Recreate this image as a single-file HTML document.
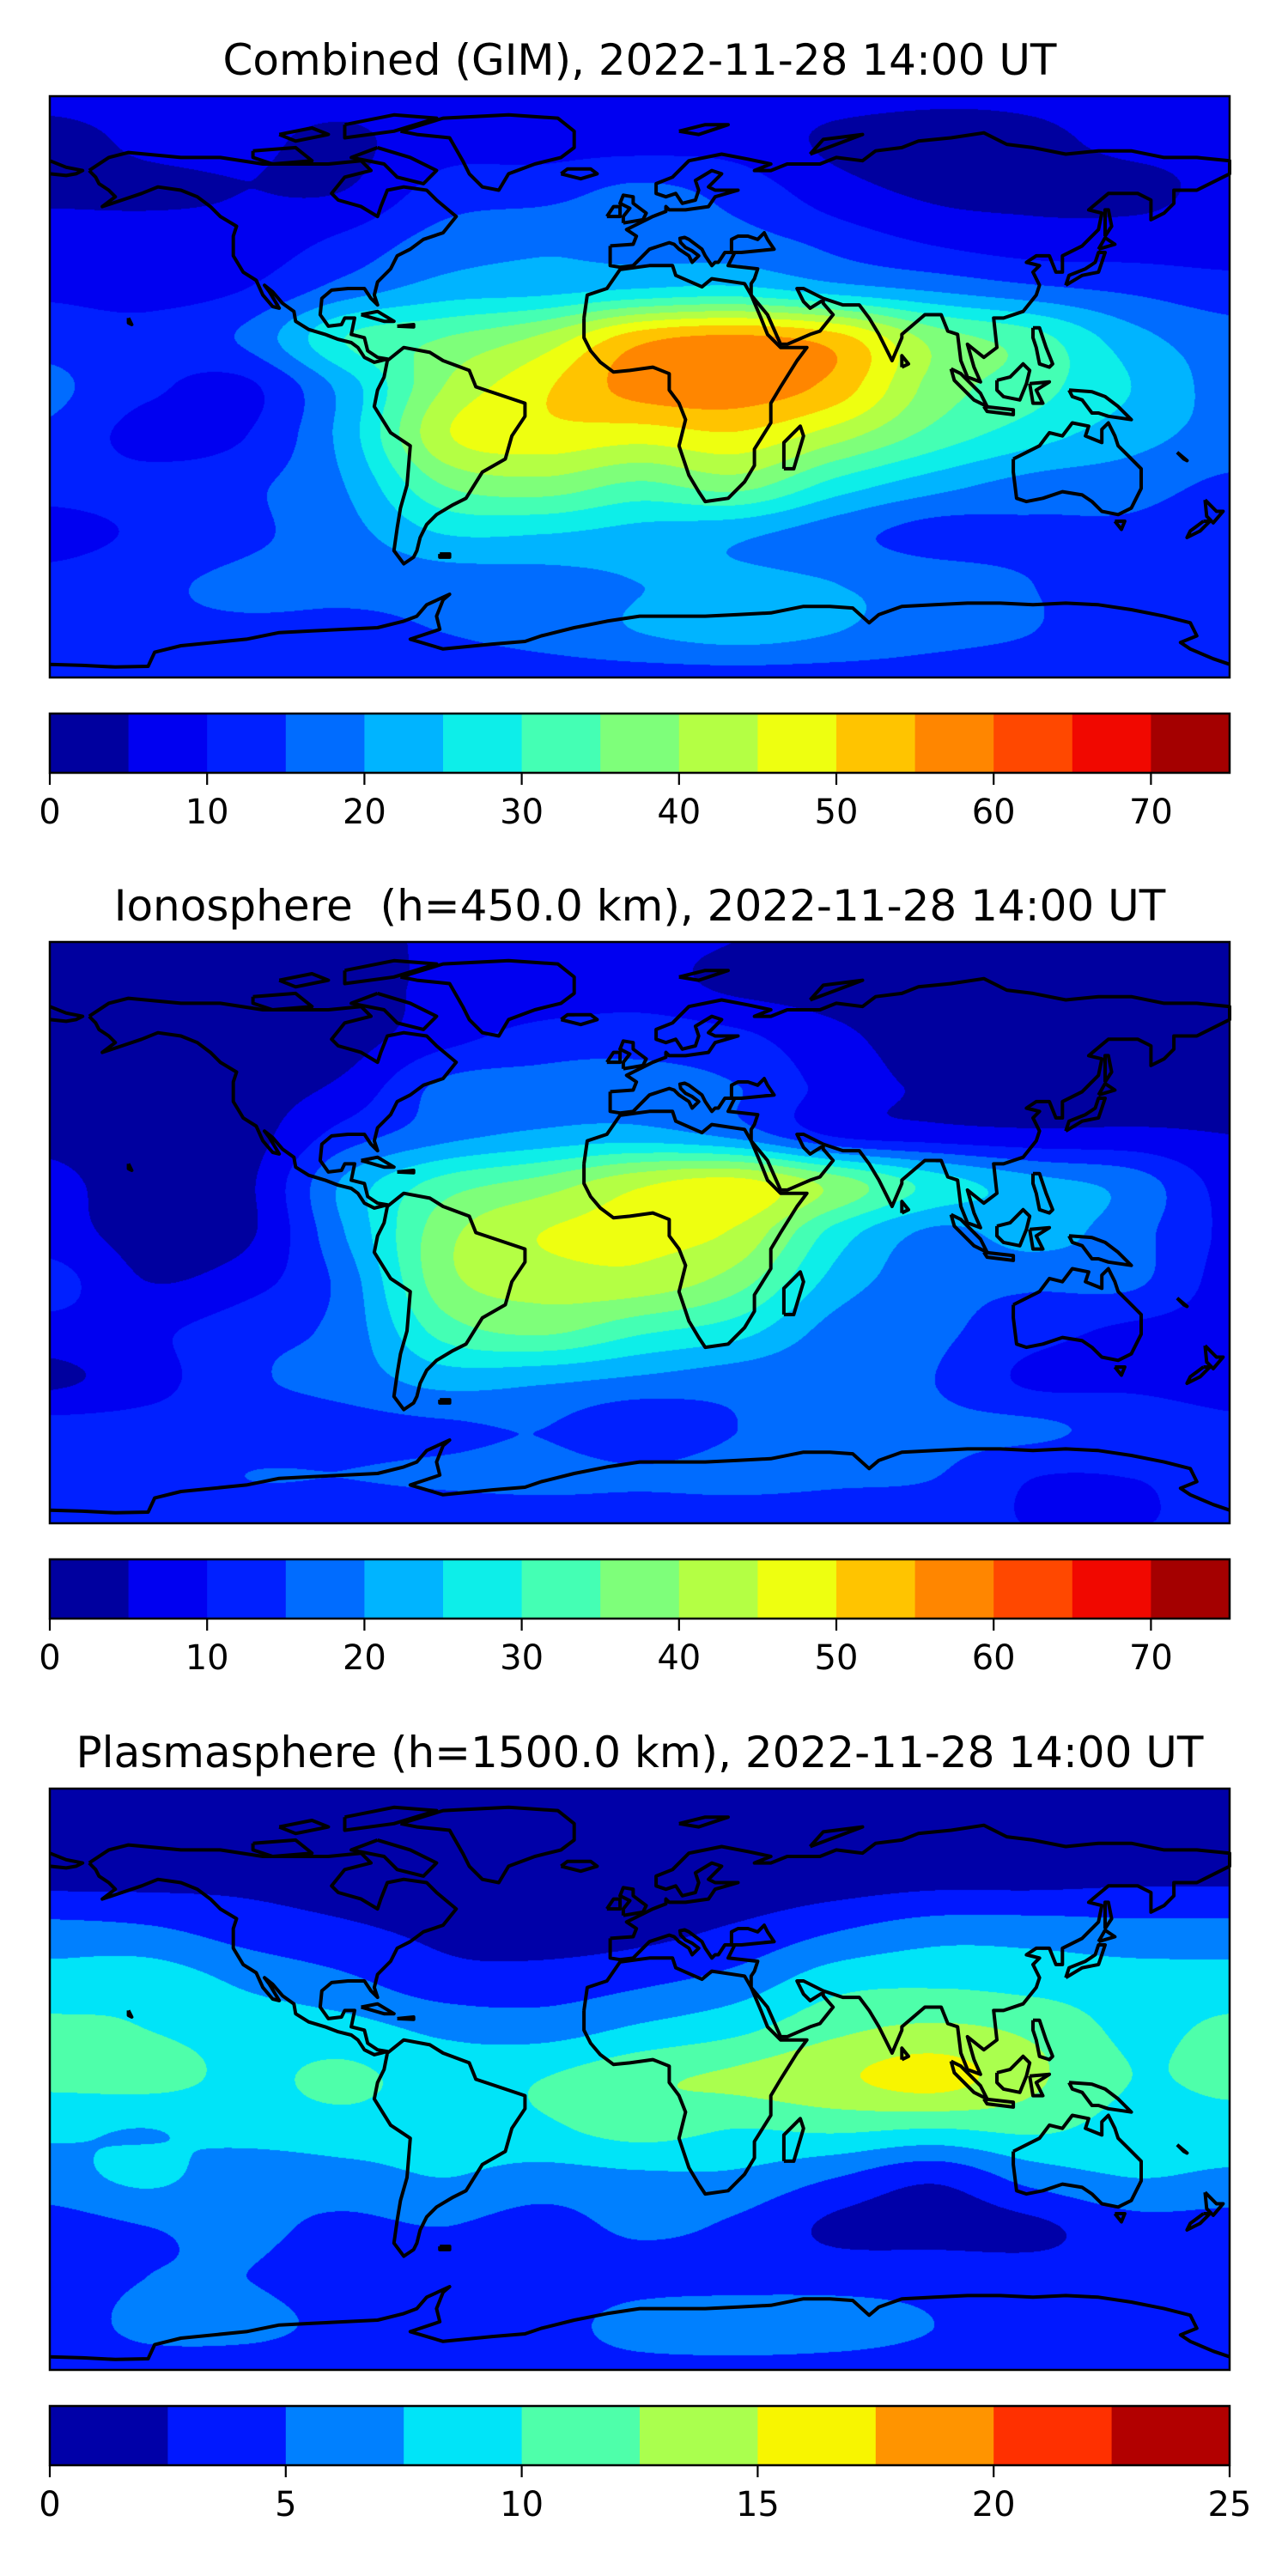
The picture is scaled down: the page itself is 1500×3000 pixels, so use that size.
<!DOCTYPE html>
<html><head><meta charset="utf-8">
<style>
html,body{margin:0;padding:0;background:#fff;}
#root{position:relative;width:1500px;height:3000px;overflow:hidden;font-family:"DejaVu Sans","Liberation Sans",sans-serif;}
canvas{position:absolute;}
svg{position:absolute;left:0;top:0;}
</style></head>
<body>
<div id="root">
<canvas id="c0" width="1374" height="677" style="left:58px;top:112px"></canvas>
<canvas id="c1" width="1374" height="677" style="left:58px;top:1097px"></canvas>
<canvas id="c2" width="1374" height="677" style="left:58px;top:2083px"></canvas>
<svg id="ov" width="1500" height="3000" xmlns="http://www.w3.org/2000/svg"></svg>
</div>
<script>
// ---- data: grid lats 90..-90 step 15 (rows), lons -180..180 step 30 (cols)
const gridLats=[90,75,60,45,30,15,0,-15,-30,-45,-60,-75,-90];
const gridLons=[-180,-150,-120,-90,-60,-30,0,30,60,90,120,150,180];
const combinedTEC=[
[7,7,7,7,8,8,8,8,7,6,6,7,7],
[3,6,6,4,8,8,8,8,4,3,4,6,6],
[4,4,5,5,12,13,16,13,7,4,4,4,6],
[7,7,7,11,17,19,18,17,13,9,7,7,7],
[9,8,10,17,22,23,25,26,22,19,16,14,12],
[13,12,16,30,35,41,53,56,52,38,32,22,17],
[16,11,9,22,40,49,57,58,53,38,32,25,18],
[14,8,10,22,44,48,47,49,42,33,27,22,18],
[12,12,14,20,35,38,34,37,28,22,18,17,14],
[8,11,14,18,25,25,23,21,17,13,14,14,12],
[12,14,16,16,17,18,20,21,20,18,15,14,13],
[14,14,14,14,15,17,20,22,20,17,15,13,13],
[12,12,12,12,12,12,12,12,12,12,12,12,12]];
const ionoTEC=[
[3,3,3,3,6,6,6,5,3,3,3,3,3],
[3,3,3,3,6,6,7,4,3,3,3,3,3],
[3,3,3,3,8,12,13,11,6,3,3,3,3],
[3,3,3,6,16,17,17,15,8,4,3,3,3],
[4,3,3,12,18,21,22,18,9,7,6,6,5],
[6,3,4,21,32,37,44,47,38,28,22,18,8],
[7,3,4,20,38,45,46,44,28,19,22,17,9],
[12,5,8,17,38,42,43,37,23,17,16,16,8],
[8,9,13,17,32,36,31,27,18,16,12,9,8],
[4,8,14,17,22,21,19,17,16,15,9,9,8],
[12,12,12,13,14,15,11,15,16,16,16,13,11],
[12,12,15,15,16,17,16,17,16,15,10,10,11],
[10,10,10,10,10,10,10,10,10,10,10,10,10]];
const plasmaTEC=[
[1.5,1.5,1.5,1.5,1.5,1.5,1.5,1.5,1.5,1.5,1.5,1.5,1.5],
[1.5,1.5,1.5,1.5,1.5,1.5,1.5,1.5,1.5,1.5,1.5,1.5,1.5],
[2,2,2,1.5,1,1,1,1,1.5,2,2,2.3,2.3],
[6,5.5,4,3,2,1.5,1.8,3,5,6.5,6.5,6,6],
[8.5,9,7,5.5,3.5,3.5,4.5,6,9,9.5,9,8.5,8.5],
[10.5,10,9,8.5,7,6.5,8,9.5,12,13,12,9.5,10.5],
[10.5,10.8,9.5,10.5,9,10,12,13,14.5,16,13,10,10.5],
[8,7.5,8.5,9,8.5,9.5,11,10,10.5,10,10.5,9,9],
[6.5,8,6,6.5,7.5,6.5,7,7,5,3,6,7.5,7],
[4,5,5.5,4.5,5,4,5.5,4.5,2,1.5,2,4,4],
[4,5,5,4,4,3.5,4,4,4,4,3.5,3.5,4],
[4,5.5,5.5,4.5,4,4,6,6.5,6,5,4,4,4],
[4,4,4,4,4,4,4,4,4,4,4,4,4]];
const jet15=['#00009f','#0000f1','#0020ff','#006cff','#00b4ff','#0deee9','#44ffb4','#7eff7a','#b4ff44','#eeff10','#ffc400','#ff8600','#ff4800','#f10800','#a40000'];
const jet10=['#0000a8','#0018ff','#0080ff','#00e4f8','#4effaa','#aaff4e','#f8f500','#ff9400','#ff3000','#b20000'];
const ticks75=[0,10,20,30,40,50,60,70];
const ticks25=[0,5,10,15,20,25];
const titles=['Combined (GIM), 2022-11-28 14:00 UT','Ionosphere  (h=450.0 km), 2022-11-28 14:00 UT','Plasmasphere (h=1500.0 km), 2022-11-28 14:00 UT'];

// ---- coastlines (lon, lat)
const coasts=[
[[-168,66],[-162,70],[-156,71.5],[-140,70],[-128,70],[-115,68],[-95,68],[-85,69],[-82,66],[-90,64],[-94,59],[-92,57],[-85,55],[-80,52],[-79,55],[-77,60],[-72,61],[-65,60],[-62,57],[-56,52],[-60,47],[-66,45],[-70,42],[-74,40],[-76,36],[-80,32],[-81,28],[-80,25],[-82,27],[-84,30],[-89,30],[-94,29.5],[-97,27],[-97.5,22],[-95,18.5],[-91,19],[-90,21],[-87,21],[-88,16],[-84,15],[-83,11],[-80,9],[-77,8.5],[-79,8],[-81,7.5],[-84,9],[-86,12],[-88,13.5],[-92,14.5],[-96,16],[-101,17.5],[-105,20],[-105.5,23],[-109,25.5],[-112,29],[-114.5,31],[-113,29],[-110,24],[-112,24.5],[-115,28],[-117,32.5],[-121,35],[-124,40],[-124,46],[-123,49],[-128,52],[-131,55],[-135,58],[-140,60],[-147,61],[-152,59],[-158,57],[-164,55],[-160,58],[-162,60],[-165,62],[-166,64],[-168,66]],
[[-73,78],[-60,82],[-40,83],[-25,82],[-20,78],[-20,73],[-24,70],[-32,68],[-40,65],[-43,60],[-48,61],[-52,65],[-54,69],[-58,76],[-68,77],[-73,78]],
[[-80,73],[-70,70],[-62,66],[-66,62],[-74,64],[-78,68],[-88,70],[-80,73]],
[[-118,72],[-105,73],[-100,69],[-112,68],[-118,70],[-118,72]],
[[-90,80],[-75,83],[-62,82],[-75,78],[-90,76],[-90,80]],
[[-110,77],[-100,79],[-95,77],[-105,75],[-110,77]],
[[-77,8],[-72,12],[-64,10.5],[-60,8],[-52,5],[-50,0],[-44,-2],[-35,-5],[-35,-9],[-39,-15],[-41,-22],[-48,-26],[-53,-34],[-57,-36],[-62,-39],[-65,-42],[-67,-46],[-68,-50],[-69,-52],[-72,-54],[-75,-50],[-74,-43],[-73,-37],[-71,-30],[-70,-18],[-76,-14],[-81,-6],[-80,-1],[-78,3],[-77,8]],
[[-17,21],[-16,28],[-10,30],[-6,35.8],[3,37],[10,37],[11,34],[19,30.5],[22,33],[32,31.5],[34,28],[37,21],[39,16],[43,12],[51,12],[48,8],[43,0],[40,-5],[40,-11],[35,-19],[35,-24],[32,-29],[27,-34],[20,-35],[18,-32],[15,-27],[12,-18],[14,-10],[12,-5],[9,-1],[9,4],[4,6],[-3,5],[-8,4.5],[-12,7.5],[-15,11],[-17,15],[-17,21]],
[[44,-25],[47,-25],[50,-15],[49,-12],[44,-17],[44,-25]],
[[-9,43],[-9,37],[-6,36.5],[-2,37],[3,42],[6,43],[9,44],[10.5,43.5],[12,42],[15,40],[16,38],[17,39],[18,40],[16,41.5],[14,42.5],[12.5,44],[12.3,45.3],[13.7,45.6],[15,45],[19,42],[20,40],[22,37],[23,38],[24,38],[26,41],[29,41],[27,37],[36,36],[35,33],[34,31.5],[34,28],[39,22],[43,13],[45,13],[52,16],[55,17],[59,22],[56,25.5],[56,26.5],[52,24],[50,26],[48,30],[50,30],[56,27],[62,25],[67,25],[70,21],[73,16],[77,8],[80,15],[80,16],[87,22],[92,22],[94,17],[97,16],[98,8],[100,3],[104,1.5],[102,6],[100,13],[105,9],[109,12],[108,21],[111,21],[117,23],[121,28],[122,31],[120,35],[122,37],[118,38],[121,40],[125,40],[127,35],[129,35],[129,40],[135,43],[140,48],[141,53],[137,54],[143,59],[152,59],[156,57],[156,51],[160,53],[163,56],[163,60],[170,60],[180,65],[180,69],[170,70],[160,70],[150,72],[140,72],[130,71],[120,73],[112,74],[105,77.5],[95,76],[85,75],[80,73],[72,72],[68,69],[60,70],[55,68],[45,68],[40,66],[35,66],[40,68],[33,69.5],[25,71],[15,69],[10,64],[5,62],[5,59],[8,58],[11,59],[13,56],[17,57],[18,60],[17,63],[22,66],[25,65],[21,61],[23,60],[30,60],[23,58],[21,55],[14,54],[9,54],[8,55],[8,53.5],[4,52],[2,51],[-2,49],[-4,48],[-1,46],[-2,43.5],[-9,43]],
[[-180,65],[-175,64.5],[-172,65],[-170,66],[-175,67],[-180,69]],
[[28,41],[28,45],[30,46],[33,46],[36,45],[38,47],[39,45],[41,42],[36,41.5],[31,41],[28,41]],
[[-5,50],[1,51],[2,53],[-2,56],[-2,58],[-5,58.5],[-6,56],[-3,54.5],[-5,52],[-5,50]],
[[-10,52],[-6,52],[-6,55],[-8,55],[-10,52]],
[[-24,65],[-22,66.5],[-15,66.5],[-13,65],[-18,63.5],[-24,65]],
[[130,31],[135,34],[140,35],[141,38],[142,41],[140,41],[139,38],[136,36],[131,34],[130,31]],
[[140,42],[145,43.5],[142,45.5],[140,42]],
[[142,46],[144,49],[143,54],[142,54],[142,46]],
[[80,6],[82,7],[80,9.5],[80,6]],
[[120,18],[122,18],[124,12],[126,7],[125,6],[122,7],[121,12],[120,15],[120,18]],
[[109,2],[113,3],[117,7],[119,5],[118,1],[116,-4],[111,-3],[109,-1],[109,2]],
[[95,5.5],[98,4],[104,-2],[106,-6],[102,-4],[96,2],[95,5.5]],
[[105,-6],[114,-7],[114,-8.5],[106,-7.5],[105,-6]],
[[119,1],[125,1.5],[121,-1],[123,-5],[120,-5],[119,1]],
[[131,-1],[138,-1.5],[142,-3],[146,-6],[150,-10],[143,-9],[140,-8],[138,-8],[135,-4],[132,-3],[131,-1]],
[[114,-22],[114,-26],[115,-34],[118,-35],[123,-34],[129,-32],[135,-33],[138,-35],[141,-38],[146,-39],[150,-37],[153,-31],[153,-25],[149,-21],[146,-18],[145,-15],[143,-11],[141,-13],[141,-17],[136,-15],[137,-12],[132,-11],[129,-15],[125,-14],[122,-18],[114,-22]],
[[145,-41],[148,-41],[147,-43.5],[145,-41]],
[[172.5,-34.5],[176,-38],[178,-38],[175,-41.5],[173,-39.5],[172.5,-34.5]],
[[172,-41],[174,-41],[171,-44],[167,-46],[168,-44],[172,-41]],
[[-85,22],[-80,23],[-75,20],[-78,20],[-85,22]],
[[-74,18.5],[-69,19],[-69,18.3],[-74,18.5]],
[[52,71],[56,75.5],[68,77],[60,74],[52,71]],
[[12,78],[20,80],[27,80],[18,77],[12,78]],
[[-156,21],[-155,19],[-156,19.5],[-156,21]],
[[-61,-51],[-58,-51],[-58,-52],[-61,-52],[-61,-51]],
[[164,-20],[167,-22.5],[166,-22],[164,-20]],
[[-180,-84.7],[-170,-85],[-160,-85.5],[-150,-85.3],[-148,-81],[-140,-79],[-120,-77],[-110,-75],[-100,-74.5],[-80,-73.5],[-72,-71.5],[-68,-70],[-65,-66.5],[-58,-63.3],[-60,-65],[-62,-70],[-61,-74],[-70,-77],[-60,-80],[-45,-78.5],[-35,-77.7],[-30,-76],[-20,-73.5],[-10,-71.5],[0,-70],[10,-70],[20,-70],[30,-69.5],[40,-69],[50,-67],[58,-67],[65,-67.5],[70,-72],[73,-69.5],[80,-67],[90,-66.5],[100,-66],[110,-66],[120,-66.5],[130,-66],[140,-66.5],[150,-68],[160,-70],[168,-72],[170,-76],[165,-78],[168,-80],[175,-83],[180,-84.7]]
];

const MX=58,MW=1374,MH=677,LAT0=88.7,LATR=177.4;
const panelTops=[112,1097,2083];

function cr(p0,p1,p2,p3,t){return 0.5*((2*p1)+(-p0+p2)*t+(2*p0-5*p1+4*p2-p3)*t*t+(-p0+3*p1-3*p2+p3)*t*t*t);}
function drawField(canvas,grid,step,colors){
  const ctx=canvas.getContext('2d');
  const img=ctx.createImageData(MW,MH);
  const rgb=colors.map(c=>[parseInt(c.substr(1,2),16),parseInt(c.substr(3,2),16),parseInt(c.substr(5,2),16)]);
  const nr=grid.length,nc=grid[0].length;
  const row=new Array(nc);
  for(let py=0;py<MH;py++){
    const lat=LAT0-(py+0.5)/MH*LATR;
    const fy=(gridLats[0]-lat)/15;let i=Math.floor(fy);const t=fy-i;
    const ri=k=>grid[Math.max(0,Math.min(nr-1,k))];
    for(let c=0;c<nc;c++)row[c]=cr(ri(i-1)[c],ri(i)[c],ri(i+1)[c],ri(i+2)[c],t);
    const rc=k=>row[Math.max(0,Math.min(nc-1,k))];
    for(let px=0;px<MW;px++){
      const lon=-180+(px+0.5)/MW*360;
      const fx=(lon-gridLons[0])/30;let j=Math.floor(fx);const u=fx-j;
      const v=cr(rc(j-1),rc(j),rc(j+1),rc(j+2),u);
      let k=Math.floor(v/step);k=Math.max(0,Math.min(colors.length-1,k));
      const o=(py*MW+px)*4;img.data[o]=rgb[k][0];img.data[o+1]=rgb[k][1];img.data[o+2]=rgb[k][2];img.data[o+3]=255;
    }
  }
  ctx.putImageData(img,0,0);
}
drawField(document.getElementById('c0'),combinedTEC,5,jet15);
drawField(document.getElementById('c1'),ionoTEC,5,jet15);
drawField(document.getElementById('c2'),plasmaTEC,2.5,jet10);

const NS='http://www.w3.org/2000/svg';
const ov=document.getElementById('ov');
function el(tag,attrs,parent){const e=document.createElementNS(NS,tag);for(const k in attrs)e.setAttribute(k,attrs[k]);(parent||ov).appendChild(e);return e;}

const panelNames=['combined','ionosphere','plasmasphere'];
for(let p=0;p<3;p++){
  const top=panelTops[p];
  const g=el('g',{});
  
  
  const px=lon=>MX+(lon+180)/360*MW;
  const py=lat=>top+(LAT0-lat)/LATR*MH;
  const cg=el('g',{fill:'none',stroke:'#000','stroke-width':4,'stroke-linejoin':'round'},g);
  
  
  coasts.forEach(poly=>{
    const d=poly.map((q,i)=>(i?'L':'M')+px(q[0]).toFixed(1)+','+py(q[1]).toFixed(1)).join('');
    const path=el('path',{d:d},cg);
    
    
  });
  const fr=el('rect',{x:MX,y:top,width:MW,height:MH,fill:'none',stroke:'#000','stroke-width':2.5},g);
  
  
  const tt=el('text',{x:MX+MW/2,y:top-25,'text-anchor':'middle','font-size':'50px',fill:'#000','xml:space':'preserve'},g);
  tt.style.whiteSpace='pre';
  tt.textContent=titles[p];
  
  
  const colors=p<2?jet15:jet10;const vmax=p<2?75:25;const ticks=p<2?ticks75:ticks25;
  const cbTop=top+719,cbH=69;
  const cb=el('g',{},g);
  
  
  const cw=MW/colors.length;
  colors.forEach((c,i)=>{
    const r=el('rect',{x:MX+i*cw,y:cbTop,width:cw+0.5,height:cbH,fill:c},cb);
    
    
  });
  el('rect',{x:MX,y:cbTop,width:MW,height:cbH,fill:'none',stroke:'#000','stroke-width':2.5},cb);
  ticks.forEach(tv=>{
    const x=MX+tv/vmax*MW;
    el('line',{x1:x,y1:cbTop+cbH,x2:x,y2:cbTop+cbH+14,stroke:'#000','stroke-width':2.2},cb);
    const tl=el('text',{x:x,y:cbTop+cbH+59,'text-anchor':'middle','font-size':'40px',fill:'#000'},cb);
    tl.textContent=String(tv);
    
    
  });
}
</script>
</body></html>
